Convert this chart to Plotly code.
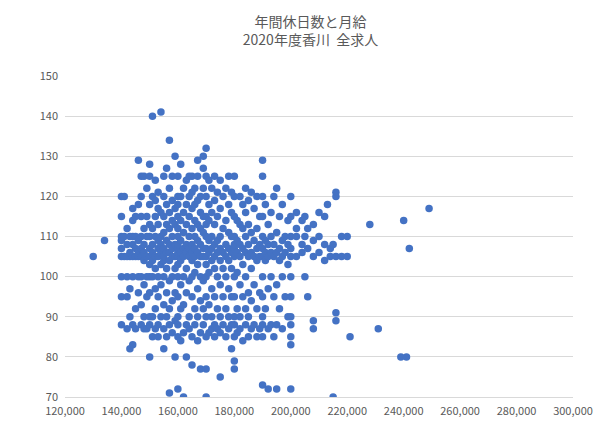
import plotly.graph_objects as go

# Monthly salary (thousand yen) -> annual holidays observed at that salary
columns = {
    130: [105], 134: [109],
    140: [88, 95, 100, 105, 107, 109, 110, 115, 120],
    141: [105, 110, 120],
    142: [87, 95, 100, 105, 108, 112],
    143: [82, 90, 97, 105, 106, 110],
    144: [83, 88, 100, 105, 108, 110, 114, 117],
    145: [87, 92, 105, 107, 110, 115],
    146: [96, 100, 105, 106, 109, 118, 129],
    147: [88, 93, 100, 105, 107, 110, 115, 120, 125],
    148: [87, 90, 98, 104, 106, 108, 112, 125],
    149: [87, 95, 100, 105, 110, 115, 122],
    150: [80, 88, 90, 96, 100, 103, 105, 107, 110, 113, 118, 125, 128],
    151: [85, 90, 100, 104, 106, 108, 112, 120, 140],
    152: [87, 92, 97, 102, 105, 110, 115, 119, 124],
    153: [85, 88, 95, 100, 105, 107, 109, 113, 117, 121],
    154: [90, 98, 103, 106, 108, 110, 116, 141],
    155: [82, 87, 93, 100, 104, 105, 107, 111, 115, 120, 125],
    156: [85, 90, 96, 102, 106, 109, 113, 118, 127],
    157: [71, 88, 92, 99, 104, 106, 108, 112, 116, 122, 134],
    158: [86, 94, 100, 105, 107, 110, 114, 119, 125],
    159: [80, 89, 96, 102, 105, 108, 113, 117, 130],
    160: [72, 85, 88, 90, 95, 100, 103, 105, 106, 107, 108, 110, 112, 115, 118, 120, 125],
    161: [84, 92, 98, 104, 106, 109, 114, 120, 128],
    162: [70, 86, 93, 100, 105, 107, 111, 116, 122],
    163: [80, 88, 96, 102, 106, 108, 113, 118, 124],
    164: [87, 90, 99, 105, 107, 110, 115, 120, 125],
    165: [78, 85, 95, 100, 104, 106, 108, 112, 117, 121, 125],
    166: [88, 92, 101, 105, 107, 110, 114, 118, 122],
    167: [84, 90, 97, 103, 106, 109, 113, 119, 125, 129],
    168: [77, 86, 94, 100, 105, 108, 112, 116, 120],
    169: [88, 92, 99, 105, 107, 111, 115, 122, 127, 130],
    170: [70, 77, 85, 90, 95, 100, 103, 105, 107, 110, 113, 115, 120, 125, 132],
    171: [86, 93, 101, 106, 109, 114, 118, 124],
    172: [87, 90, 97, 104, 107, 110, 116, 122],
    173: [85, 88, 95, 102, 105, 108, 113, 119, 125],
    174: [87, 92, 100, 106, 109, 115, 121],
    175: [75, 86, 90, 98, 104, 107, 110, 117, 124],
    176: [88, 95, 102, 106, 112, 120],
    177: [85, 92, 100, 105, 108, 114, 122],
    178: [87, 90, 97, 104, 107, 111, 118, 125],
    179: [82, 88, 95, 102, 106, 110, 116, 121],
    180: [77, 79, 85, 88, 90, 95, 100, 105, 106, 107, 108, 110, 115, 120, 125],
    181: [86, 92, 101, 106, 109, 114],
    182: [87, 90, 98, 105, 108, 113, 120],
    183: [84, 95, 103, 107, 112, 118],
    184: [88, 92, 100, 106, 110, 116, 122],
    185: [85, 90, 96, 105, 108, 113, 119],
    186: [87, 94, 102, 106, 111, 121],
    187: [88, 98, 105, 109, 117],
    188: [85, 92, 104, 107, 112, 120],
    189: [87, 96, 105, 108, 115],
    190: [73, 85, 88, 90, 95, 100, 105, 107, 110, 115, 120, 125, 129],
    191: [92, 104, 106, 109, 118],
    192: [72, 87, 97, 105, 108, 113],
    193: [88, 100, 106, 110, 116],
    194: [85, 95, 105, 108, 120],
    195: [72, 88, 98, 106, 111, 122],
    196: [92, 104, 107, 115],
    197: [87, 100, 105, 109, 118],
    198: [95, 106, 110],
    199: [90, 103, 108, 114],
    200: [72, 83, 85, 88, 90, 95, 100, 105, 107, 110, 115, 120],
    202: [105, 110, 112, 116],
    204: [106, 108, 114],
    205: [100, 110, 115],
    206: [95, 107, 112],
    208: [87, 89, 105, 109, 113],
    210: [106, 110, 116],
    212: [104, 108, 115],
    213: [118],
    214: [105, 107],
    215: [70, 108],
    216: [89, 91, 105, 120, 121],
    218: [105, 110],
    220: [105, 110],
    221: [85],
    228: [113],
    231: [87],
    239: [80],
    240: [114],
    241: [80],
    242: [107],
    249: [117],
}

salary = [k * 1000 for k, ys in columns.items() for _ in ys]
holidays = [y for ys in columns.values() for y in ys]

fig = go.Figure(go.Scatter(
    x=salary, y=holidays, mode='markers',
    marker=dict(color='#4472C4', size=7.5),
))

fig.update_layout(
    width=605, height=427,
    margin=dict(l=57, r=40, t=68, b=38),
    paper_bgcolor='white', plot_bgcolor='white',
    font=dict(family='Noto Sans CJK JP', color='#595959', size=11),
    title=dict(text='年間休日数と月給<br>2020年度香川  全求人', x=0.5, xanchor='center',
               y=0.955, yanchor='top', font=dict(size=14, color='#595959')),
    showlegend=False,
)
fig.update_xaxes(range=[120000, 300000], dtick=20000, tickformat=',d',
                 showgrid=False, zeroline=False, showline=True, linecolor='#d9d9d9',
                 ticklabelstandoff=4)
fig.update_yaxes(range=[70, 150], dtick=10, showgrid=True, gridcolor='#d9d9d9',
                 zeroline=False, ticklabelstandoff=6)

fig.write_html("out.html")
